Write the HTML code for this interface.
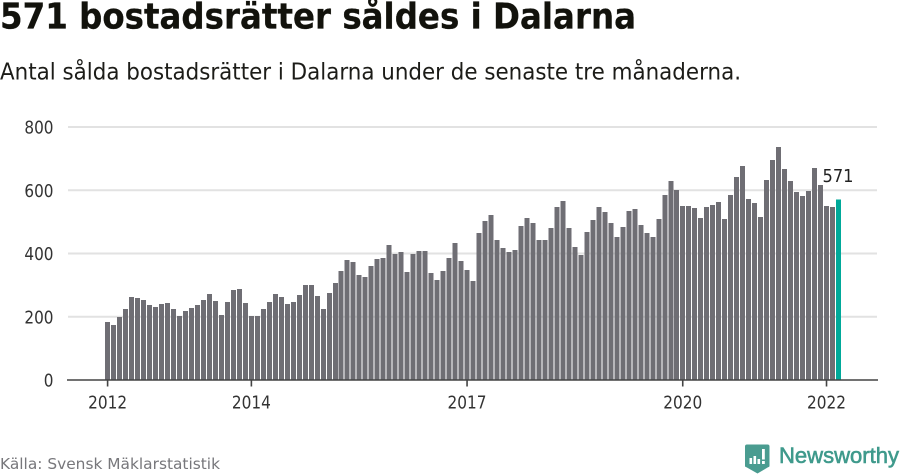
<!DOCTYPE html>
<html lang="sv">
<head>
<meta charset="utf-8">
<title>571 bostadsrätter såldes i Dalarna</title>
<style>
html,body{margin:0;padding:0;background:#fff;}
body{width:900px;height:474px;overflow:hidden;}
svg{display:block;font-family:"DejaVu Sans","Liberation Sans",sans-serif;}
</style>
</head>
<body>
<svg id="chart" xmlns="http://www.w3.org/2000/svg" width="900" height="474" viewBox="0 0 900 474">
  <text x="0" y="28.5" font-size="36" font-weight="700" fill="#12120c" stroke="#12120c" stroke-width="0.3" textLength="636" lengthAdjust="spacingAndGlyphs">571 bostadsrätter såldes i Dalarna</text>
  <text x="0" y="79.5" font-size="23" fill="#1c1c18" textLength="741" lengthAdjust="spacingAndGlyphs">Antal sålda bostadsrätter i Dalarna under de senaste tre månaderna.</text>
  <g id="grid"></g>
  <g id="ylabels"></g>
  <g id="bars" shape-rendering="crispEdges"></g>
  <g id="xaxis"></g>
  <text id="valuelabel" x="838" y="182" font-size="18" fill="#222" text-anchor="middle" textLength="31" lengthAdjust="spacingAndGlyphs"></text>
  <text x="0" y="469" font-size="15.5" fill="#77777b" textLength="220" lengthAdjust="spacingAndGlyphs">Källa: Svensk Mäklarstatistik</text>
  <g>
    <path d="M747 444.5H767.5Q769.5 444.5 769.5 446.5V466Q769.5 467 768 467.3L757.5 473.5L746.5 467.3Q745 467 745 466V446.5Q745 444.5 747 444.5Z" fill="#4a9c90"/>
    <rect x="749.5" y="458" width="2.6" height="6" fill="#fff"/>
    <rect x="753.5" y="456" width="2.6" height="8" fill="#fff"/>
    <rect x="757.5" y="459" width="2.6" height="5" fill="#fff"/>
    <rect x="762" y="449" width="2.8" height="10.5" fill="#fff"/>
    <rect x="762" y="461" width="2.8" height="3" fill="#fff"/>
    <text x="779" y="463" font-size="22" font-weight="400" fill="#3f9a8c" stroke="#3f9a8c" stroke-width="0.6" style="font-family:'Liberation Sans',sans-serif" textLength="120" lengthAdjust="spacingAndGlyphs">Newsworthy</text>
  </g>
</svg>
<script>
const values = [183,174,199,224,262,259,253,237,231,240,243,224,
202,218,228,237,253,272,250,205,247,285,288,243,
202,202,224,247,272,262,240,247,269,300,300,266,
224,275,307,345,379,373,332,326,360,383,386,427,
398,405,341,398,408,408,338,316,345,386,433,376,
348,313,465,503,522,443,417,405,411,487,512,496,
443,443,481,547,566,481,421,395,468,506,547,531,
496,452,484,534,541,490,465,452,509,585,629,601,
550,550,544,512,547,553,563,509,585,642,677,572,
560,515,632,696,737,667,629,594,582,598,670,617,
550,547,571];
const yTicks = [0,200,400,600,800];
const xTickLabels = ["2012","2014","2017","2020","2022"];
const xTickIndexes = [0,24,60,96,120];

const NS = "http://www.w3.org/2000/svg";
function y(v){ return 380 - v * (253 / 800); }
function x(i){ return 107.6 + i * ((838.5 - 107.6) / 122); }
function make(tag, attrs, parent){
  const el = document.createElementNS(NS, tag);
  for (const k in attrs) el.setAttribute(k, attrs[k]);
  parent.appendChild(el);
  return el;
}
const grid = document.getElementById("grid");
const ylabels = document.getElementById("ylabels");
const bars = document.getElementById("bars");
const xaxis = document.getElementById("xaxis");

yTicks.forEach(function(t){
  if (t !== 0) {
    const line = make("line", {x1:68, x2:877, y1:y(t), y2:y(t), stroke:"#e2e2e2", "stroke-width":2}, grid);
    
    
  }
  const label = make("text", {x:53.5, y:y(t)+6.5, "font-size":17.5, fill:"#333", "text-anchor":"end"}, ylabels);
  
  
  label.setAttribute('textLength', String(t).length * 9.7);
  label.setAttribute('lengthAdjust', 'spacingAndGlyphs');
  label.textContent = t;
});

values.forEach(function(v, i){
  const last = i === values.length - 1;
  const bar = make("rect", {x:x(i)-2.5, y:y(v), width:5, height:380-y(v), fill:last ? "#00a99a" : "#6c6b71", "fill-opacity":last ? 1 : 0.98}, bars);
  
  
});

const axisLine = make("line", {x1:67, x2:878, y1:380, y2:380, stroke:"#444", "stroke-width":1.6}, xaxis);



xTickLabels.forEach(function(lab, k){
  const px = x(xTickIndexes[k]);
  const tick = make("line", {x1:px, x2:px, y1:380, y2:386.5, stroke:"#444", "stroke-width":1.6}, xaxis);
  
  
  const label = make("text", {x:px, y:408.5, "font-size":17.5, fill:"#333", "text-anchor":"middle"}, xaxis);
  
  
  label.setAttribute('textLength', '39');
  label.setAttribute('lengthAdjust', 'spacingAndGlyphs');
  label.textContent = lab;
});

document.getElementById("valuelabel").textContent = values[values.length - 1];
</script>
</body>
</html>
